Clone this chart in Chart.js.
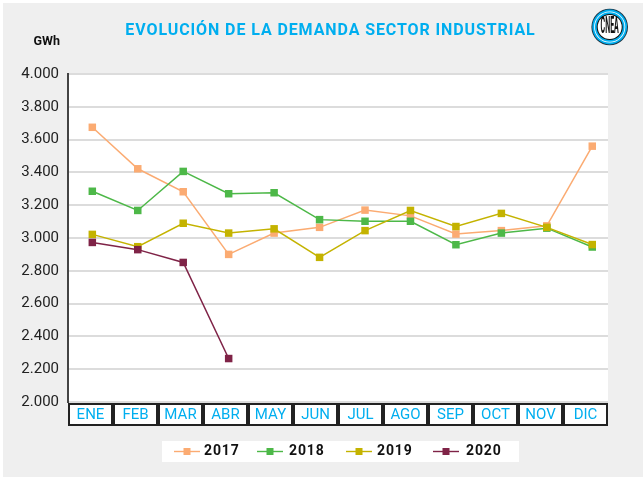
<!DOCTYPE html>
<html>
<head>
<meta charset="utf-8">
<title>Demanda sector industrial</title>
<script src="https://cdn.jsdelivr.net/npm/chart.js@4/dist/chart.umd.min.js"></script>
<style>
  html, body { margin: 0; padding: 0; background: #fff; }
  canvas { display: block; }
</style>
</head>
<body>
<canvas id="demandChart" width="643" height="477"></canvas>
<script>
const months = ['ENE', 'FEB', 'MAR', 'ABR', 'MAY', 'JUN', 'JUL', 'AGO', 'SEP', 'OCT', 'NOV', 'DIC'];
const y2017 = [3675, 3422, 3282, 2900, 3030, 3065, 3170, 3135, 3024, 3045, 3074, 3560];
const y2018 = [3285, 3168, 3406, 3270, 3276, 3112, 3102, 3102, 2959, 3030, 3060, 2945];
const y2019 = [3022, 2947, 3090, 3030, 3056, 2882, 3045, 3168, 3070, 3150, 3065, 2960];
const y2020 = [2973, 2929, 2851, 2265];

const FONT = 'Roboto, "Noto Sans", sans-serif';
const BLUE = '#00aeef';

function series(label, values, color, order) {
    return {
        label: label,
        order: order,
        data: values.map((v, i) => ({ x: i, y: v })),
        xAxisID: 'xPos',
        yAxisID: 'y',
        borderColor: color,
        backgroundColor: color,
        borderWidth: 1.5,
        pointStyle: 'rect',
        pointRadius: 5.3,
        pointBorderWidth: 0,
        tension: 0
    };
}

// page background, month cells, header, logo and legend
const decor = {
    id: 'decor',
    beforeDraw(chart) {
        const ctx = chart.ctx;
        const area = chart.chartArea;
        ctx.save();
        ctx.fillStyle = '#fff';
        ctx.fillRect(0, 0, 643, 477);
        ctx.fillStyle = '#efefef';
        ctx.fillRect(3, 3, 640, 474);
        ctx.fillStyle = '#fff';
        ctx.fillRect(area.left, area.top, area.right - area.left, area.bottom - area.top);

        const sx = chart.scales.x;
        ctx.strokeStyle = '#222';
        ctx.lineWidth = 2;
        months.forEach((m, i) => {
            const c = sx.getPixelForTick(i);
            ctx.fillStyle = '#fff';
            ctx.fillRect(c - 21.5, area.bottom + 2, 43, 21);
            ctx.strokeRect(c - 21.5, area.bottom + 2, 43, 21);
        });
        ctx.restore();
    },
    afterDraw(chart) {
        const ctx = chart.ctx;
        ctx.save();

        ctx.textBaseline = 'middle';
        ctx.textAlign = 'center';
        ctx.fillStyle = BLUE;
        ctx.font = '700 16px ' + FONT;
        ctx.letterSpacing = '0.9px';
        ctx.fillText('EVOLUCIÓN DE LA DEMANDA SECTOR INDUSTRIAL', 330.5, 31);
        ctx.letterSpacing = '0px';

        ctx.textAlign = 'right';
        ctx.fillStyle = '#111';
        ctx.font = '700 12.5px ' + FONT;
        ctx.fillText('GWh', 60, 42);

        // logo
        const rings = [[18.3, '#1b3444'], [17.4, BLUE], [15.6, '#fff'], [14.8, BLUE], [13, '#111'], [12, '#fff']];
        rings.forEach(r => {
            ctx.beginPath();
            ctx.arc(609.7, 27, r[0], 0, Math.PI * 2);
            ctx.fillStyle = r[1];
            ctx.fill();
        });
        ctx.save();
        ctx.translate(609.7, 27.5);
        ctx.scale(0.5, 1.7);
        ctx.textAlign = 'center';
        ctx.fillStyle = '#111';
        ctx.font = '700 14px ' + FONT;
        ctx.fillText('CNEA', 0, 0);
        ctx.restore();

        // legend
        ctx.fillStyle = '#fff';
        ctx.fillRect(162, 441, 357, 21);
        const lineX = [174, 257, 346, 433];
        const textX = [204, 289, 377, 466];
        ctx.textAlign = 'left';
        ctx.font = '700 14px ' + FONT;
        ctx.letterSpacing = '0.9px';
        chart.data.datasets.forEach((ds, i) => {
            const x = lineX[i];
            ctx.strokeStyle = ds.borderColor;
            ctx.lineWidth = 1.4;
            ctx.beginPath();
            ctx.moveTo(x, 451.5);
            ctx.lineTo(x + 26, 451.5);
            ctx.stroke();
            ctx.fillStyle = ds.backgroundColor;
            ctx.fillRect(x + 9.5, 448, 7, 7);
            ctx.fillStyle = '#111';
            ctx.fillText(ds.label, textX[i], 451.5);
        });
        ctx.restore();
    }
};

const chart = new Chart(document.getElementById('demandChart').getContext('2d'), {
    type: 'line',
    data: {
        labels: months,
        datasets: [
            series('2017', y2017, '#fbab72', 4),
            series('2018', y2018, '#4db848', 3),
            series('2019', y2019, '#c4b300', 2),
            series('2020', y2020, '#7f2347', 1)
        ]
    },
    plugins: [decor],
    options: {
        responsive: false,
        animation: false,
        layout: { padding: { top: 74, right: 35, left: 0, bottom: 0 } },
        plugins: {
            legend: { display: false },
            title: { display: false },
            tooltip: { enabled: false }
        },
        scales: {
            x: {
                type: 'category',
                position: 'bottom',
                offset: true,
                grid: { display: false },
                border: { display: false },
                ticks: {
                    color: BLUE,
                    font: { family: FONT, size: 15 },
                    autoSkip: false,
                    maxRotation: 0,
                    padding: -4
                },
                afterFit(scale) { scale.height = 75; }
            },
            xPos: {
                type: 'linear',
                display: false,
                min: -0.535,
                max: 11.346
            },
            y: {
                min: 2000,
                max: 4000,
                grid: { color: '#dcdcdc', lineWidth: 2, drawTicks: false },
                border: { color: '#444', width: 2 },
                ticks: {
                    stepSize: 200,
                    color: '#222',
                    padding: 9,
                    font: { family: FONT, size: 15 },
                    callback: v => (v / 1000).toFixed(3)
                },
                afterFit(scale) { scale.width = 68; }
            }
        }
    }
});
</script>
</body>
</html>
